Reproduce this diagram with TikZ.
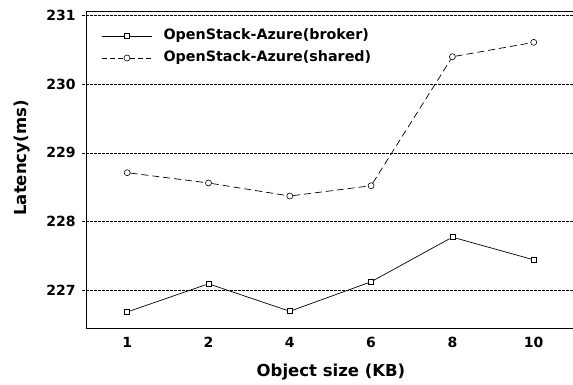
\documentclass[tikz,border=0pt]{standalone}
\usepackage{fontspec}
\setmainfont{DejaVu Sans}
\usepackage{tikz}
\usetikzlibrary{shapes,arrows}

\begin{document}
\begin{tikzpicture}[x=1pt,y=1pt,
		bmark/.style={draw,rectangle,inner sep=0pt,minimum size=5pt,line width=0.6pt},
		smark/.style={draw,circle,inner sep=0pt,minimum size=6pt,line width=0.6pt},
		gridline/.style={dash pattern=on 2.5pt off 1.5pt,line width=0.5pt},
		dashline/.style={line width=0.7pt,dash pattern=on 7pt off 4pt},
		lbl/.style={font=\bfseries\fontsize{14}{16}\selectfont},
		ttl/.style={font=\bfseries\fontsize{16.5}{18}\selectfont}]
	\useasboundingbox (0,0) rectangle (573,385);
	%
	\begin{scope}[shift={(45.9,26.4)},x=81.3pt,y=68.6pt]
		% grid and y ticks
		\foreach \v in {227,...,231}{
			\coordinate (gl\v) at (0.45,{\v-226});
			\coordinate (gr\v) at (6.49,{\v-226});
			\draw[gridline] (gl\v) -- (gr\v);
			\node[lbl,anchor=east] (yt\v) at (0.41,{\v-226}) {\v};
		}
		% frame
		\draw[line width=1pt] (6.49,5.06) -- (0.5,5.06) -- (0.5,0.44) -- (6.49,0.44);
		% x ticks
		\foreach \k/\s in {1/1,2/2,3/4,4/6,5/8,6/10}
			\node[lbl,anchor=north] (xt\k) at (\k,0.36) {\s};
		% broker
		\foreach \k/\v in {1/226.68,2/227.09,3/226.69,4/227.12,5/227.77,6/227.44}
			\node[bmark] (b\k) at (\k,{\v-226}) {};
		\draw[line width=0.7pt] (b1) -- (b2) -- (b3) -- (b4) -- (b5) -- (b6);
		% shared
		\foreach \k/\v in {1/228.71,2/228.56,3/228.37,4/228.52,5/230.40,6/230.61}
			\node[smark] (s\k) at (\k,{\v-226}) {};
		\draw[dashline] (s1) -- (s2) -- (s3) -- (s4) -- (s5) -- (s6);
	\end{scope}
	%
	% legend
	\node[bmark] (lb) at (127,349) {};
	\coordinate (lb1) at (101.7,349);
	\coordinate (lb2) at (151.7,349);
	\draw[line width=0.7pt] (lb1) -- (lb) -- (lb2);
	\node[lbl,font=\bfseries\fontsize{14.3}{16}\selectfont,anchor=west] (lbt) at (160,349) {OpenStack-Azure(broker)};
	\node[smark] (ls) at (127,327) {};
	\coordinate (ls1) at (101.7,327);
	\coordinate (ls2) at (151.7,327);
	\draw[dashline,dash pattern=on 5pt off 3pt] (ls1) -- (ls) -- (ls2);
	\node[lbl,font=\bfseries\fontsize{14.3}{16}\selectfont,anchor=west] (lst) at (160,327) {OpenStack-Azure(shared)};
	%
	% axis titles
	\node[ttl] (xlab) at (331,13) {Object size (KB)};
	\node[ttl,rotate=90] (ylab) at (22,227) {Latency(ms)};
\end{tikzpicture}
\end{document}
